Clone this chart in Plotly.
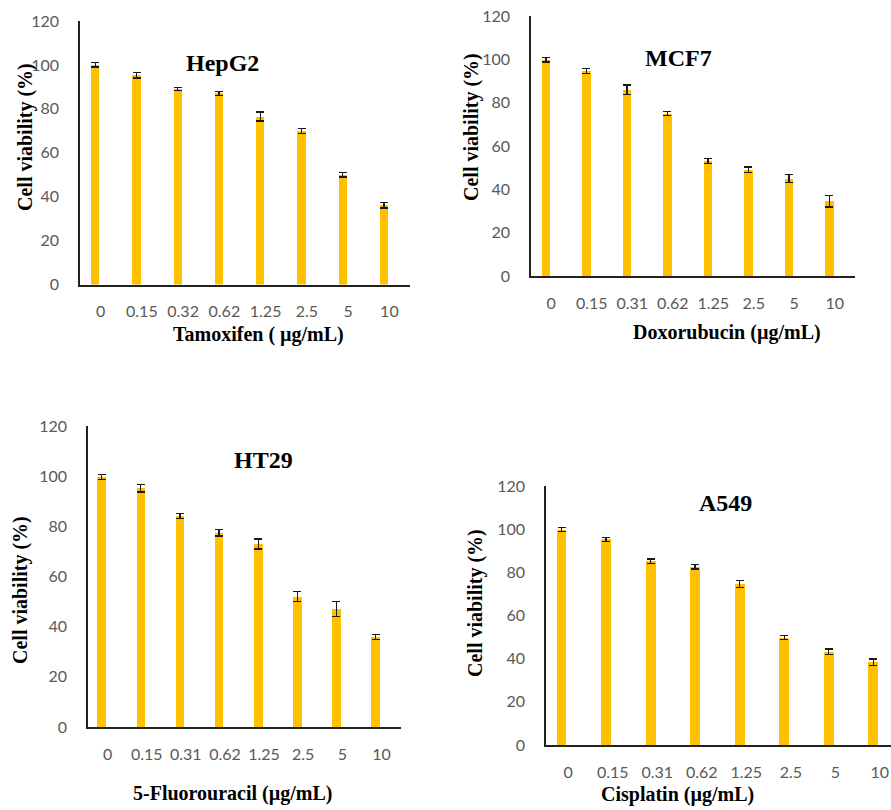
import plotly.graph_objects as go

W, H = 891, 810

conc_a = ["0", "0.15", "0.32", "0.62", "1.25", "2.5", "5", "10"]
conc_b = ["0", "0.15", "0.31", "0.62", "1.25", "2.5", "5", "10"]

hepg2_vals = [100, 95.3, 89, 87, 76.5, 70, 50, 36]
hepg2_err = [1, 1.3, 0.8, 0.8, 2, 1.2, 1, 1.2]

mcf7_vals = [99.8, 94.6, 86, 75, 53, 49, 45, 34.5]
mcf7_err = [1, 1.2, 2.2, 1, 1.1, 1.3, 1.8, 2.6]

ht29_vals = [99.8, 95.2, 84, 77.5, 73, 52, 47, 36]
ht29_err = [1, 1.5, 1, 1.3, 2, 2, 3, 1]

a549_vals = [99.8, 95.3, 85.2, 82.6, 74.5, 49.8, 43.2, 38.3]
a549_err = [1, 1, 1, 1, 1.6, 1, 1.3, 1.5]

titles = ["HepG2", "MCF7", "HT29", "A549"]
xtitles = ["Tamoxifen ( \u00b5g/mL)", "Doxorubucin (\u00b5g/mL)",
           "5-Fluorouracil (\u00b5g/mL)", "Cisplatin (\u00b5g/mL)"]
ytitle = "Cell viability (%)"

BAR = "#FFC000"
TICKC = "#595959"
TICKFONT = dict(family="Lato, Open Sans, sans-serif", size=16, color=TICKC)
SERIF = "Liberation Serif, Times New Roman, serif"

def px(x):
    return x / W

def py(y):
    return 1 - y / H

panels = [
    dict(x0=80, x1=410, yb=284.5, yt=21, cats=conc_a, vals=hepg2_vals, err=hepg2_err,
         xr=[-0.5, 7.5], bw=0.2, boff=-0.23,
         title=(222, 63), ylab=(25, 137), xlab=(258, 334)),
    dict(x0=531, x1=855, yb=276, yt=16, cats=conc_b, vals=mcf7_vals, err=mcf7_err,
         xr=[-0.5, 7.5], bw=0.22, boff=-0.24,
         title=(678, 58), ylab=(472, 127), xlab=(727, 332)),
    dict(x0=88, x1=401, yb=727, yt=426, cats=conc_b, vals=ht29_vals, err=ht29_err,
         xr=[-0.5, 7.5], bw=0.22, boff=-0.26,
         title=(263, 460), ylab=(20, 590), xlab=(233, 793)),
    dict(x0=546, x1=891, yb=745, yt=486, cats=conc_b, vals=a549_vals, err=a549_err,
         xr=[-0.5, 7.25], bw=0.22, boff=-0.26,
         title=(725, 503), ylab=(475, 603), xlab=(677, 794)),
]

fig = go.Figure()
annotations = []
layout = {}
for i, p in enumerate(panels):
    n = "" if i == 0 else str(i + 1)
    fig.add_trace(go.Bar(
        x=list(range(len(p["cats"]))), y=p["vals"],
        error_y=dict(type="data", array=p["err"], visible=True,
                     color="#1a1a1a", thickness=1.3, width=4),
        marker=dict(color=BAR, line=dict(width=0)),
        width=p["bw"], offset=p["boff"],
        xaxis="x" + n, yaxis="y" + n, showlegend=False,
        cliponaxis=False,
    ))
    layout["xaxis" + n] = dict(
        domain=[px(p["x0"]), min(1.0, px(p["x1"]))],
        anchor="y" + n, range=p["xr"], automargin=False,
        tickmode="array", tickvals=list(range(len(p["cats"]))), ticktext=p["cats"],
        showline=True, linecolor="#222222", linewidth=1.5,
        showgrid=False, zeroline=False, ticks="", tickfont=TICKFONT,
        ticklabelstandoff=12,
    )
    layout["yaxis" + n] = dict(
        domain=[py(p["yb"]), py(p["yt"])],
        anchor="x" + n, range=[0, 120], automargin=False,
        tickvals=[0, 20, 40, 60, 80, 100, 120],
        showline=True, linecolor="#222222", linewidth=1.5,
        showgrid=False, zeroline=False, ticks="", tickfont=TICKFONT,
        ticklabelstandoff=16,
    )
    annotations.append(dict(
        text="<b>%s</b>" % titles[i], x=px(p["title"][0]), y=py(p["title"][1]),
        xref="paper", yref="paper", showarrow=False, xanchor="center", yanchor="middle",
        font=dict(family=SERIF, size=24, color="black")))
    annotations.append(dict(
        text="<b>%s</b>" % ytitle, x=px(p["ylab"][0]), y=py(p["ylab"][1]),
        xref="paper", yref="paper", showarrow=False, textangle=-90,
        xanchor="center", yanchor="middle",
        font=dict(family=SERIF, size=20, color="black")))
    annotations.append(dict(
        text="<b>%s</b>" % xtitles[i], x=px(p["xlab"][0]), y=py(p["xlab"][1]),
        xref="paper", yref="paper", showarrow=False,
        xanchor="center", yanchor="middle",
        font=dict(family=SERIF, size=20, color="black")))

fig.update_layout(
    width=W, height=H, autosize=False,
    margin=dict(l=0, r=0, t=0, b=0, pad=0, autoexpand=False),
    paper_bgcolor="white", plot_bgcolor="white",
    bargap=0.0, showlegend=False,
    annotations=annotations,
    **layout,
)

fig.write_html(
    "out.html",
    config={"displayModeBar": False},
    post_script="document.body.style.margin='0';document.body.style.overflow='hidden';",
)
